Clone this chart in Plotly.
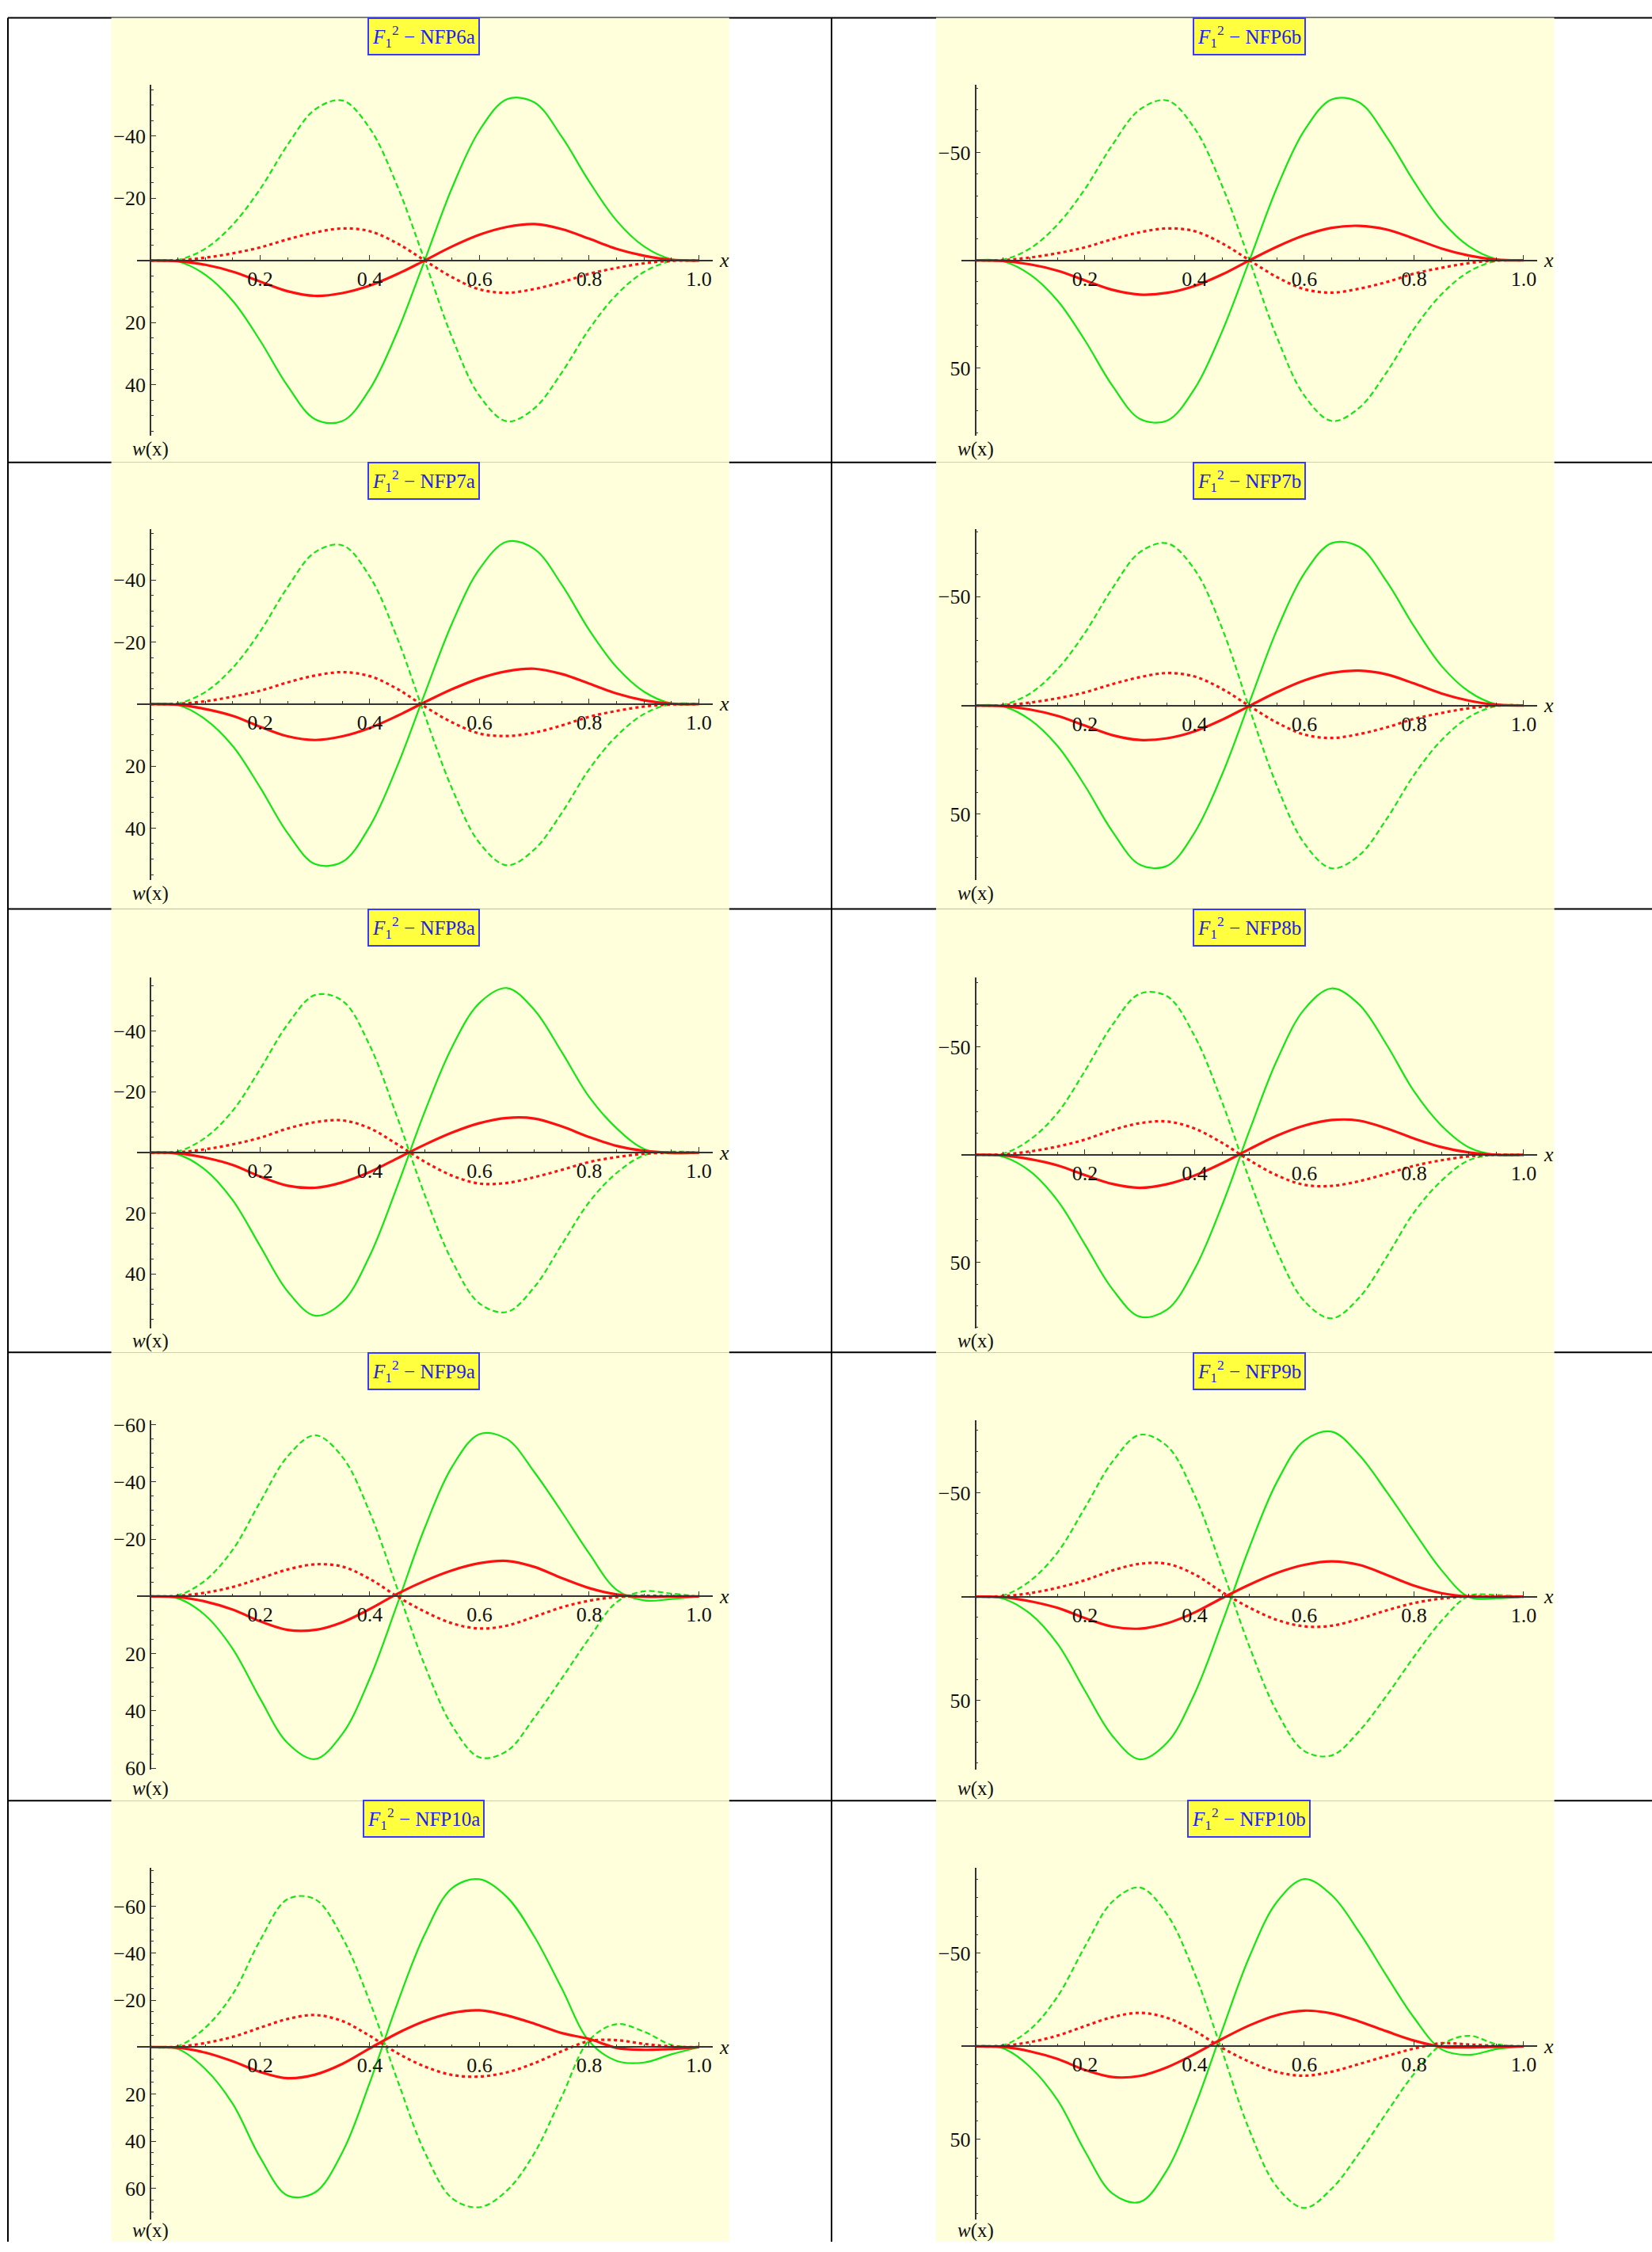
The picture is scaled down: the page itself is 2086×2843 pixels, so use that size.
import plotly.graph_objects as go

W, H = 2086, 2843

# sample points along the beam
x_vals = [0.0, 0.05, 0.1, 0.15, 0.2, 0.25, 0.3, 0.35, 0.4, 0.45, 0.5,
          0.55, 0.6, 0.65, 0.7, 0.75, 0.8, 0.85, 0.9, 0.95, 1.0]

# w(x): g = green solid, gd = green dashed, r = red solid, rd = red dotted
g_6a = [0, 0.3, 4.6, 13.0, 25.8, 40.4, 51.1, 51.7, 41.4, 23.0, 0, -23.4, -41.9, -51.9, -50.9, -39.8, -25.4, -12.8, -4.5, -0.4, 0]
gd_6a = [0, -0.2, -3.8, -11.5, -23.0, -37.2, -48.6, -51.5, -42.5, -24.0, 0, 24.8, 43.6, 51.8, 47.6, 36.1, 22.1, 11.0, 3.7, 0.2, 0]
r_6a = [0, 0.2, 1.4, 3.6, 6.8, 9.9, 11.4, 10.5, 8.1, 4.4, 0, -4.5, -8.3, -10.8, -11.7, -10.1, -7.0, -3.7, -1.5, -0.2, 0]
rd_6a = [0, -0.1, -0.9, -2.3, -4.2, -6.8, -9.0, -10.3, -9.4, -5.5, 0, 5.4, 9.3, 10.4, 9.2, 7.0, 4.3, 2.4, 0.9, 0.1, 0]

g_6b = [0, 0.4, 6.6, 18.7, 37.2, 58.2, 73.6, 74.4, 59.6, 33.1, 0, -33.7, -60.3, -74.7, -73.3, -57.3, -36.6, -18.4, -6.5, -0.6, 0]
gd_6b = [0, -0.3, -5.5, -16.6, -33.1, -53.6, -70.0, -74.2, -61.2, -34.6, 0, 35.7, 62.8, 74.6, 68.5, 52.0, 31.8, 15.8, 5.3, 0.3, 0]
r_6b = [0, 0.3, 1.9, 4.8, 9.3, 13.7, 15.9, 15.1, 11.9, 6.6, 0, -6.3, -11.6, -15.1, -16.0, -14.3, -10.1, -5.5, -2.2, -0.3, 0]
rd_6b = [0, -0.1, -1.3, -3.3, -6.0, -9.8, -13.0, -14.8, -13.5, -7.9, 0, 7.8, 13.4, 15.0, 13.2, 10.1, 6.2, 3.5, 1.3, 0.1, 0]

g_7a = [0, 0.3, 4.9, 13.5, 26.9, 41.6, 51.6, 50.9, 39.4, 20.0, -3.3, -26.1, -43.6, -52.4, -50.0, -38.5, -23.9, -11.9, -4.0, -0.2, 0]
gd_7a = [0, -0.2, -3.9, -11.7, -23.4, -37.7, -49.0, -51.2, -41.1, -21.3, 3.5, 27.3, 44.8, 52.0, 46.9, 35.1, 21.0, 10.3, 3.2, 0, 0]
r_7a = [0, 0.2, 1.6, 3.8, 7.3, 10.4, 11.6, 10.4, 7.7, 3.8, -0.6, -4.8, -8.3, -10.6, -11.4, -9.7, -6.6, -3.4, -1.2, -0.1, 0]
rd_7a = [0, -0.1, -0.9, -2.4, -4.3, -7.0, -9.2, -10.3, -9.0, -4.9, 0.8, 5.9, 9.5, 10.3, 9.2, 6.9, 4.1, 2.2, 0.8, 0.1, 0]

g_7b = [0, 0.4, 6.6, 18.7, 37.0, 58.0, 73.3, 73.8, 58.5, 31.8, -1.5, -34.8, -60.8, -74.7, -73.0, -57.1, -36.4, -18.2, -6.4, -0.5, 0]
gd_7b = [0, -0.3, -5.5, -16.7, -33.4, -53.9, -70.5, -74.6, -62.5, -35.5, 1.5, 37.0, 63.5, 75.0, 69.0, 52.3, 32.0, 16.0, 5.4, 0.3, 0]
r_7b = [0, 0.3, 1.9, 4.8, 9.3, 13.7, 15.9, 15.1, 11.9, 6.6, 0.2, -6.1, -11.5, -15.0, -16.0, -14.3, -10.1, -5.5, -2.2, -0.3, 0]
rd_7b = [0, -0.1, -1.3, -3.3, -6.0, -9.8, -13.0, -14.9, -13.3, -7.6, 0.3, 7.9, 13.4, 15.0, 13.2, 10.1, 6.2, 3.5, 1.3, 0.1, 0]

g_8a = [0, 0.6, 5.7, 15.7, 30.8, 45.7, 53.7, 49.3, 33.9, 11.1, -13.4, -34.8, -49.3, -54.2, -47.0, -33.1, -18.3, -8.0, -1.2, 0.3, 0]
gd_8a = [0, -0.4, -4.9, -13.8, -27.5, -42.2, -51.9, -50.0, -35.2, -11.6, 13.9, 35.7, 49.7, 52.5, 44.3, 30.3, 16.3, 6.7, 0.9, -0.3, 0]
r_8a = [0, 0.2, 1.7, 4.1, 7.9, 10.9, 11.6, 9.8, 6.4, 1.9, -2.6, -6.6, -9.7, -11.4, -11.2, -8.6, -5.1, -2.2, -0.6, 0, 0]
rd_8a = [0, -0.1, -1.1, -2.7, -4.9, -7.9, -10.0, -10.6, -8.0, -2.7, 3.0, 7.6, 10.2, 10.0, 8.1, 5.7, 3.1, 1.5, 0.4, 0, 0]

g_8b = [0, 0.8, 7.6, 21.2, 41.6, 62.3, 75.1, 71.8, 53.0, 23.4, -11.3, -43.9, -67.6, -77.3, -69.8, -51.2, -29.5, -13.6, -3.5, 0, 0]
gd_8b = [0, -0.5, -7.1, -19.5, -39.0, -60.3, -74.8, -73.6, -55.1, -24.5, 11.5, 44.6, 67.9, 75.9, 66.3, 47.4, 26.7, 12.0, 2.5, 0, 0]
r_8b = [0, 0.2, 2.0, 4.9, 9.4, 13.5, 15.3, 13.6, 9.6, 3.9, -2.7, -8.9, -13.6, -16.2, -15.9, -12.3, -7.6, -3.6, -1.1, 0, 0]
rd_8b = [0, -0.2, -1.6, -3.9, -7.1, -11.5, -14.7, -15.5, -12.2, -5.6, 2.5, 9.5, 13.9, 14.4, 12.2, 8.8, 5.1, 2.5, 0.7, 0, 0]

g_9a = [0, 0.7, 6.6, 18.3, 35.7, 51.2, 56.8, 48.0, 28.6, 2.7, -23.9, -45.3, -56.7, -55.0, -43.4, -29.5, -15.0, -2.3, 1.4, 0.9, 0]
gd_9a = [0, -0.4, -5.6, -16.3, -33.0, -48.9, -56.3, -48.7, -29.3, -2.8, 24.0, 45.1, 56.2, 54.0, 42.3, 28.6, 14.6, 2.0, -1.8, -1.0, 0]
r_9a = [0, 0.2, 1.8, 4.6, 8.7, 11.7, 11.7, 9.0, 4.4, -0.9, -5.4, -9.1, -11.6, -12.4, -10.3, -6.4, -2.9, -0.7, 0.1, 0, 0]
rd_9a = [0, -0.2, -1.3, -3.3, -6.3, -9.4, -11.2, -10.4, -6.1, 0, 5.3, 9.4, 11.2, 10.2, 7.1, 3.8, 1.5, 0.2, -0.2, -0.1, 0]

g_9b = [0, 0.9, 8.2, 22.7, 45.3, 67.0, 78.3, 70.2, 46.6, 12.6, -23.8, -55.2, -75.1, -79.4, -68.2, -50.5, -31.3, -12.8, 0.2, 0.8, 0]
gd_9b = [0, -0.5, -7.6, -21.3, -42.8, -64.9, -77.9, -72.4, -48.8, -13.3, 24.1, 55.4, 74.3, 76.4, 64.7, 47.6, 28.9, 11.7, -0.3, -0.8, 0]
r_9b = [0, 0.2, 2.2, 5.4, 10.3, 14.4, 15.4, 12.8, 7.6, 0.7, -5.8, -11.4, -15.3, -17.0, -15.3, -10.5, -5.3, -1.7, -0.1, 0.1, 0]
rd_9b = [0, -0.2, -1.7, -4.3, -7.9, -12.6, -15.8, -15.8, -10.7, -2.2, 5.3, 11.2, 14.3, 14.0, 10.7, 6.6, 3.1, 0.9, -0.1, -0.1, 0]

g_10a = [0, 0.8, 9.3, 24.1, 46.9, 63.1, 61.8, 44.7, 15.0, -18.5, -48.0, -67.7, -71.5, -63.9, -47.1, -25.0, -2.5, 5.8, 6.5, 3.0, 0]
gd_10a = [0, -0.5, -8.3, -22.6, -45.5, -63.0, -63.0, -46.6, -19.3, 13.8, 44.6, 64.3, 68.1, 61.0, 45.1, 21.0, -3.0, -9.8, -6.6, -1.0, 0]
r_10a = [0, 0.2, 2.3, 6.0, 10.5, 13.2, 11.7, 7.1, 0.5, -5.9, -11.1, -14.6, -15.7, -13.5, -10.0, -6.0, -3.5, 0.3, 1.1, 0.8, 0]
rd_10a = [0, -0.2, -1.8, -4.4, -8.3, -12.0, -13.7, -11.1, -4.8, 2.5, 8.2, 11.8, 12.5, 10.7, 6.8, 1.7, -2.6, -3.0, -1.4, -0.3, 0]

g_10b = [0, 1.0, 11.1, 28.9, 56.4, 79.1, 83.7, 66.3, 32.6, -8.5, -48.3, -77.7, -90.0, -81.3, -61.4, -37.9, -15.4, 1.6, 4.6, 1.5, 0]
gd_10b = [0, -0.5, -9.1, -26.8, -53.7, -77.8, -85.4, -70.8, -39.2, 2.5, 45.2, 75.6, 86.9, 76.5, 57.4, 35.6, 14.8, -0.9, -5.7, -1.2, 0]
r_10b = [0, 0.3, 2.7, 6.8, 12.7, 16.5, 15.9, 11.2, 4.1, -4.0, -11.3, -16.8, -19.2, -17.7, -13.4, -8.1, -3.1, 0.2, 0.5, 0.3, 0]
rd_10b = [0, -0.3, -2.3, -5.8, -10.9, -15.7, -18.0, -15.3, -8.3, 0.8, 8.3, 13.8, 15.8, 13.6, 9.5, 5.2, 1.2, -1.7, -1.0, -0.3, 0]

panel_names = ["NFP6a", "NFP6b", "NFP7a", "NFP7b", "NFP8a", "NFP8b", "NFP9a", "NFP9b", "NFP10a", "NFP10b"]
panel_curves = [
    (g_6a, gd_6a, r_6a, rd_6a), (g_6b, gd_6b, r_6b, rd_6b),
    (g_7a, gd_7a, r_7a, rd_7a), (g_7b, gd_7b, r_7b, rd_7b),
    (g_8a, gd_8a, r_8a, rd_8a), (g_8b, gd_8b, r_8b, rd_8b),
    (g_9a, gd_9a, r_9a, rd_9a), (g_9b, gd_9b, r_9b, rd_9b),
    (g_10a, gd_10a, r_10a, rd_10a), (g_10b, gd_10b, r_10b, rd_10b),
]
# plot range of each panel (top value, bottom value), y axis points down
panel_yrange = [(-56.5, 56.4), (-81.4, 81.4), (-56.4, 56.7), (-81.1, 80.3), (-57.7, 57.8),
                (-82.4, 80.4), (-61.6, 60.6), (-85.0, 83.4), (-76.5, 73.4), (-96.2, 93.2)]

# page geometry (pixels)
ROW_LINE = [14.5, 580, 1148, 1712, 2282]
ROW_END = [580, 1148, 1712, 2282, 2843]
AX_TOP = [100, 665, 1235, 1798, 2367]
AX_BOT = [546, 1111, 1681, 2243, 2815]
WX_GAP = [17, 17, 17, 24, 14]
X_ZERO = [190, 1231.5]
UNIT = 692.5
PANEL_X = [(140.6, 920.8), (1182, 1962.6)]
TITLE_X = [535, 1577]

GREEN = "#14E614"
RED = "#FF1010"
AXC = "#333333"
FONT = "Liberation Serif"


def px(x):
    return x / W


def py(y):
    return 1 - y / H


def minus(v):
    return ("\u2212" + str(abs(v))) if v < 0 else str(v)


fig = go.Figure()
shapes = []
annotations = []
axes = {}

# table rules
for y in ROW_LINE:
    shapes.append(dict(type="line", xref="paper", yref="paper", x0=px(10), x1=1, y0=py(y), y1=py(y),
                       line=dict(color="black", width=2), layer="below"))
for x in (10, 1050):
    shapes.append(dict(type="line", xref="paper", yref="paper", x0=px(x), x1=px(x), y0=py(14.5), y1=0,
                       line=dict(color="black", width=2), layer="below"))

for i, name in enumerate(panel_names):
    n = i + 1
    row, col = i // 2, i % 2
    suffix = "" if n == 1 else str(n)
    xa, ya = "x" + suffix, "y" + suffix

    # yellow image background
    shapes.append(dict(type="rect", xref="paper", yref="paper",
                       x0=px(PANEL_X[col][0]), x1=px(PANEL_X[col][1]),
                       y0=py(ROW_END[row]), y1=py(ROW_LINE[row]),
                       fillcolor="#FFFFDC", line=dict(width=0), layer="below"))

    top_v, bot_v = panel_yrange[i]
    top, bot = AX_TOP[row], AX_BOT[row]
    zero_px = top + (0 - top_v) / (bot_v - top_v) * (bot - top)
    x0 = X_ZERO[col]

    if col == 0:
        major, minor_step = 20, 5
    else:
        major, minor_step = 50, 10
    ymaj = [v for v in range(-200, 201, major) if v != 0 and top_v <= v <= bot_v]
    ymin_t = [v for v in range(-200, 201, minor_step) if v % major != 0 and top_v <= v <= bot_v]

    axes["xaxis" + suffix] = dict(
        domain=[px(x0 - 0.025 * UNIT), px(x0 + 1.025 * UNIT)], range=[-0.025, 1.025],
        anchor="free", position=py(zero_px), showline=True, linecolor=AXC, linewidth=1.6,
        ticks="inside", ticklen=6, tickwidth=1.2, tickcolor=AXC,
        tickmode="array", tickvals=[0.2, 0.4, 0.6, 0.8, 1.0], ticktext=["0.2", "0.4", "0.6", "0.8", "1.0"],
        minor=dict(tickmode="array", tickvals=[0.05, 0.1, 0.15, 0.25, 0.3, 0.35, 0.45, 0.5, 0.55,
                                               0.65, 0.7, 0.75, 0.85, 0.9, 0.95],
                   ticks="inside", ticklen=3, tickwidth=1, tickcolor=AXC),
        showgrid=False, zeroline=False, fixedrange=True,
        tickfont=dict(family=FONT, size=26, color="#111111"),
    )
    axes["yaxis" + suffix] = dict(
        domain=[py(bot), py(top)], range=[bot_v, top_v],
        anchor="free", position=px(x0), side="left", showline=True, linecolor=AXC, linewidth=1.6,
        ticks="inside", ticklen=6, tickwidth=1.2, tickcolor=AXC,
        tickmode="array", tickvals=ymaj, ticktext=[minus(v) for v in ymaj],
        minor=dict(tickmode="array", tickvals=ymin_t, ticks="inside", ticklen=3, tickwidth=1, tickcolor=AXC),
        showgrid=False, zeroline=False, fixedrange=True,
        tickfont=dict(family=FONT, size=26, color="#111111"),
    )

    g, gd, r, rd = panel_curves[i]
    styles = [(g, GREEN, 2.2, "solid"), (gd, GREEN, 2.2, "7px,4px"),
              (r, RED, 3.2, "solid"), (rd, RED, 3.2, "4px,4px")]
    for vals, color, width, dash in styles:
        fig.add_trace(go.Scatter(
            x=x_vals, y=vals, mode="lines", xaxis=xa, yaxis=ya,
            line=dict(color=color, width=width, dash=dash, shape="spline", smoothing=1.0),
            showlegend=False, hoverinfo="skip"))

    # labels
    annotations.append(dict(xref="paper", yref="paper", x=px(x0 + 1.025 * UNIT + 6), y=py(zero_px),
                            xanchor="left", yanchor="middle", showarrow=False, text="<i>x</i>",
                            font=dict(family=FONT, size=26, color="#111111")))
    annotations.append(dict(xref="paper", yref="paper", x=px(x0), y=py(bot + WX_GAP[row]),
                            xanchor="center", yanchor="middle", showarrow=False, text="<i>w</i>(x)",
                            font=dict(family=FONT, size=25, color="#111111")))
    annotations.append(dict(xref="paper", yref="paper", x=px(TITLE_X[col]), y=py(ROW_LINE[row] + 23.5),
                            xanchor="center", yanchor="middle", showarrow=False,
                            text="<i>F</i><sub>1</sub><sup>2</sup> \u2212 " + name,
                            font=dict(family=FONT, size=25, color="#2020EE"),
                            bgcolor="#FFFF40", bordercolor="#3A3AFF", borderwidth=2, borderpad=4))

fig.update_layout(
    width=W, height=H, margin=dict(l=0, r=0, t=0, b=0),
    paper_bgcolor="white", plot_bgcolor="rgba(0,0,0,0)",
    shapes=shapes, annotations=annotations, showlegend=False,
    **axes,
)

# drop the browser's default page margin so the figure sits at the window origin
fig.write_html("out.html", config={"displayModeBar": False},
               post_script="document.body.style.margin = '0px';")
